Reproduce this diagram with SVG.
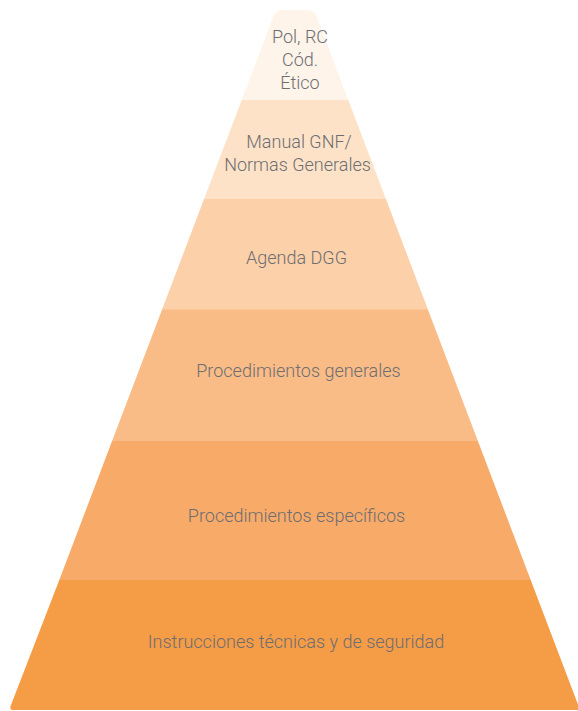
<svg xmlns="http://www.w3.org/2000/svg" width="578" height="711" viewBox="0 0 578 711">
<style>
text{font-family:Roboto,"Liberation Sans",Arial,sans-serif;font-weight:300;font-size:18px;fill:#6d6e71;text-anchor:middle}
</style>
<rect width="578" height="711" fill="#ffffff"/>
<g id="level1">
<path d="M241.5,100.5 L273.5,16 Q276,10 283,10 L307,10 Q314,10 316.5,16 L348.5,100.5 Z" fill="#fef4ea"/>
<text x="300" y="43">Pol, RC</text>
<text x="300" y="66">Cód.</text>
<text x="300" y="89">Ético</text>
</g>
<g id="level2">
<polygon points="241.7,100 348.3,100 386.1,199.5 203.9,199.5" fill="#fde2c8"/>
<text x="299" y="148">Manual GNF/</text>
<text x="297.5" y="171">Normas Generales</text>
</g>
<g id="level3">
<polygon points="204.1,199 385.9,199 428.1,310 161.9,310" fill="#fcd0a9"/>
<text x="296.5" y="264">Agenda DGG</text>
</g>
<g id="level4">
<polygon points="162.1,309.5 427.9,309.5 478.1,441.5 111.9,441.5" fill="#fabc87"/>
<text x="298.5" y="377">Procedimientos generales</text>
</g>
<g id="level5">
<polygon points="112.1,441 477.9,441 530.9,580.5 59.1,580.5" fill="#f8aa69"/>
<text x="296.5" y="522">Procedimientos específicos</text>
</g>
<g id="level6">
<path d="M59.3,580 L530.7,580 L580.1,710 L13.5,710 Q9,710 10.8,705.5 Z" fill="#f59c47"/>
<text x="296" y="648">Instrucciones técnicas y de seguridad</text>
</g>
</svg>
